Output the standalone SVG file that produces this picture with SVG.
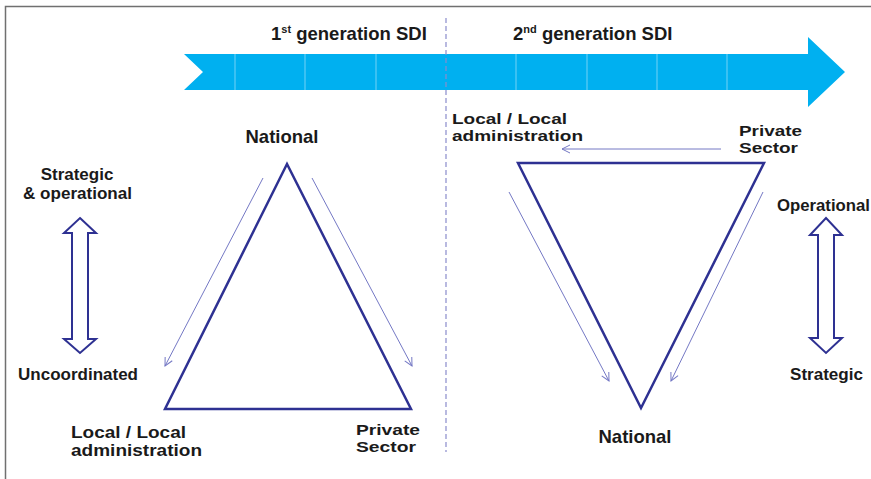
<svg xmlns="http://www.w3.org/2000/svg" width="871" height="479" viewBox="0 0 871 479">
  <style>
    .t { font-family: "Liberation Sans", Arial, sans-serif; font-weight: bold; fill: #1a1a1a; }
    .h { font-size: 18.5px; }
    .s { font-size: 17px; }
    .tight { font-size: 15.5px; }
    .tri { fill: none; stroke: #2e3192; stroke-width: 2.5; stroke-linejoin: miter; }
    .thin { fill: none; stroke: #7478c4; stroke-width: 1; marker-end: url(#open); }
    .dbl { fill: #ffffff; stroke: #2e3192; stroke-width: 2; stroke-linejoin: miter; }
    .div { stroke: #ffffff; stroke-opacity: 0.45; stroke-width: 1; }
  </style>
  <defs>
    <marker id="open" viewBox="0 0 10 10" refX="9" refY="5" markerWidth="10" markerHeight="10" markerUnits="userSpaceOnUse" orient="auto">
      <path d="M1,1 L9,5 L1,9" fill="none" stroke="#7478c4" stroke-width="1"/>
    </marker>
  </defs>
  <rect width="871" height="479" fill="#ffffff"/>
  <path d="M5.5,479 L5.5,6.5 L871,6.5" fill="none" stroke="#707070" stroke-width="1.5"/>

  <g id="timeline">
    <path d="M184,54 L808,54 L808,37 L845,72 L808,107 L808,90 L184,90 L203,72 Z" fill="#00b0f0"/>
    <line class="div" x1="235" y1="54" x2="235" y2="90"/>
    <line class="div" x1="305" y1="54" x2="305" y2="90"/>
    <line class="div" x1="376" y1="54" x2="376" y2="90"/>
    <line class="div" x1="516" y1="54" x2="516" y2="90"/>
    <line class="div" x1="587" y1="54" x2="587" y2="90"/>
    <line class="div" x1="657" y1="54" x2="657" y2="90"/>
    <line class="div" x1="727" y1="54" x2="727" y2="90"/>
  </g>
  <line id="divider" x1="446" y1="18" x2="446" y2="452" stroke="#8a8ccc" stroke-width="1.2" stroke-dasharray="5,3"/>

  <g id="gen1-label"><text class="t h" x="271" y="40">1<tspan font-size="11" dy="-7">st</tspan><tspan dy="7"> generation SDI</tspan></text></g>
  <g id="gen2-label"><text class="t h" x="513" y="40">2<tspan font-size="11" dy="-7">nd</tspan><tspan dy="7"> generation SDI</tspan></text></g>

  <g id="triangle-1st"><polygon class="tri" points="287,164 165,409 411,409"/></g>
  <g id="triangle-2nd"><polygon class="tri" points="518,163 764,163 641,408"/></g>

  <g id="national-1"><text class="t" font-size="18.5" x="282" y="143" text-anchor="middle">National</text></g>
  <g id="strategic-operational"><text class="t s" x="77" y="180" text-anchor="middle">Strategic</text><text class="t s" x="23" y="199" textLength="109" lengthAdjust="spacingAndGlyphs">&amp; operational</text></g>
  <g id="uncoordinated"><text class="t s" x="18" y="380" textLength="120" lengthAdjust="spacingAndGlyphs">Uncoordinated</text></g>
  <g id="local-1"><text class="t s" x="71" y="438" textLength="115" lengthAdjust="spacingAndGlyphs">Local / Local</text><text class="t s" x="71" y="456" textLength="131" lengthAdjust="spacingAndGlyphs">administration</text></g>
  <g id="private-1"><text class="t tight" x="356" y="435" textLength="64" lengthAdjust="spacingAndGlyphs">Private</text><text class="t tight" x="356" y="452" textLength="60" lengthAdjust="spacingAndGlyphs">Sector</text></g>

  <g id="local-2"><text class="t tight" x="452" y="124" textLength="115" lengthAdjust="spacingAndGlyphs">Local / Local</text><text class="t tight" x="452" y="141" textLength="131" lengthAdjust="spacingAndGlyphs">administration</text></g>
  <g id="private-2"><text class="t tight" x="739" y="136" textLength="63" lengthAdjust="spacingAndGlyphs">Private</text><text class="t tight" x="739" y="153" textLength="59" lengthAdjust="spacingAndGlyphs">Sector</text></g>
  <g id="operational"><text class="t s" x="777" y="211" textLength="93" lengthAdjust="spacingAndGlyphs">Operational</text></g>
  <g id="strategic"><text class="t s" x="790" y="380" textLength="73" lengthAdjust="spacingAndGlyphs">Strategic</text></g>
  <g id="national-2"><text class="t" font-size="18.5" x="635" y="443" text-anchor="middle">National</text></g>

  <g id="connectors">
    <line class="thin" x1="263" y1="178" x2="165" y2="366"/>
    <line class="thin" x1="312" y1="178" x2="412" y2="366"/>
    <line class="thin" x1="721" y1="149" x2="562" y2="149"/>
    <line class="thin" x1="509" y1="192" x2="609" y2="381"/>
    <line class="thin" x1="763" y1="192" x2="671" y2="381"/>
    <path class="dbl" d="M80,218 L96,233 L88,233 L88,339 L96,339 L80,353 L64,339 L72,339 L72,233 L64,233 Z"/>
    <path class="dbl" d="M826,218 L842,235 L834,235 L834,338 L842,338 L826,353 L810,338 L818,338 L818,235 L810,235 Z"/>
  </g>
</svg>
